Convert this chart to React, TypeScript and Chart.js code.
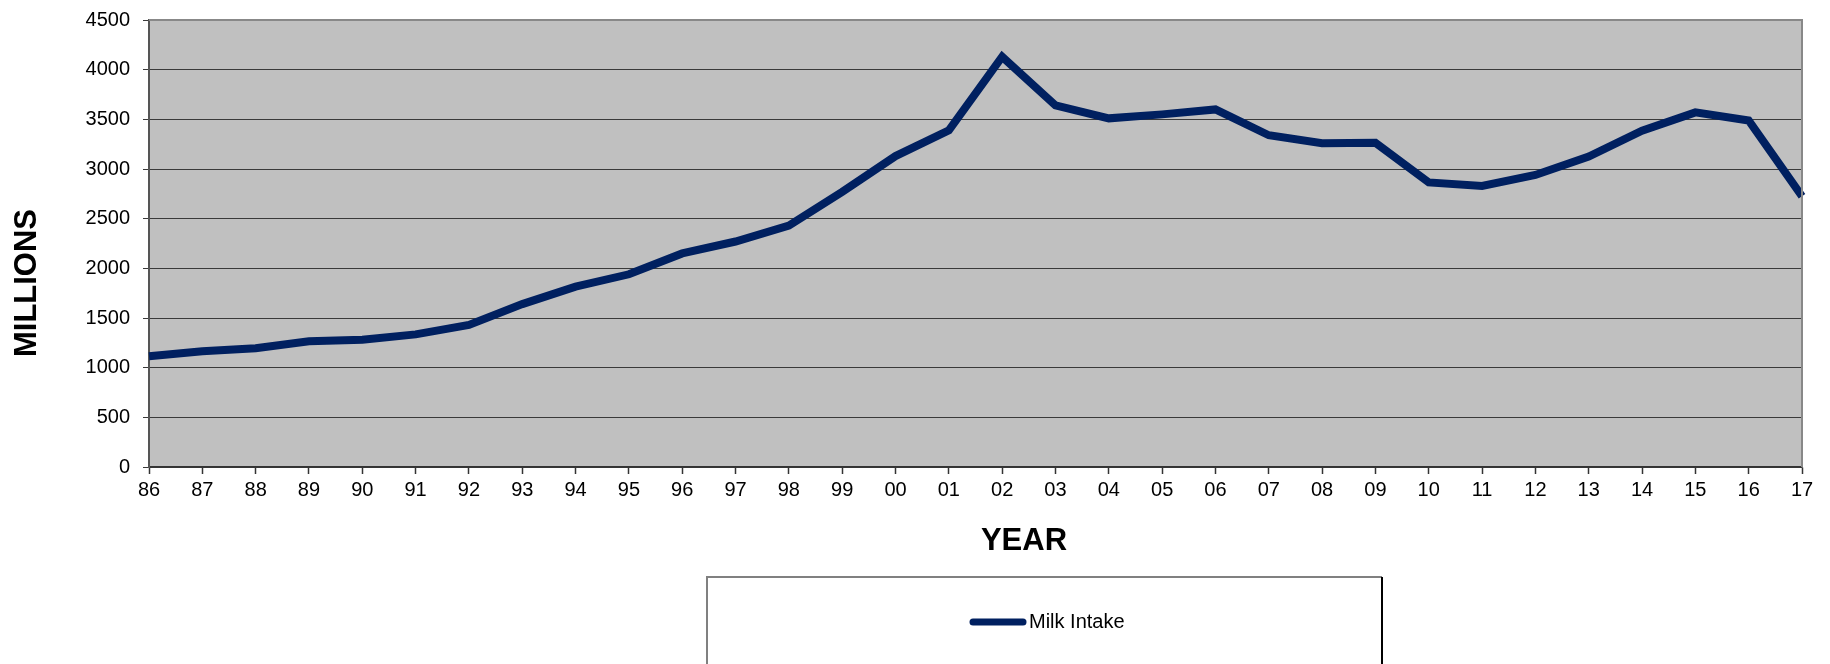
import React, { useEffect, useRef } from 'react';
import { Chart, registerables } from 'chart.js';

Chart.register(...registerables);

const years = [
  '86', '87', '88', '89', '90', '91', '92', '93', '94', '95', '96', '97', '98', '99',
  '00', '01', '02', '03', '04', '05', '06', '07', '08', '09', '10', '11', '12', '13',
  '14', '15', '16', '17',
];

const milkIntake = [
  1115, 1165, 1195, 1265, 1280, 1335, 1430, 1640, 1815, 1940, 2150, 2270, 2430, 2770,
  3130, 3390, 4130, 3640, 3510, 3550, 3600, 3340, 3260, 3265, 2865, 2830, 2940, 3125,
  3385, 3570, 3488, 2725,
];

const seriesLabel = 'Milk Intake';
const xTitle = 'YEAR';
const yTitle = 'MILLIONS';
const yMin = 0;
const yMax = 4500;
const yStep = 500;

const FONT = 'Arial, "Liberation Sans", sans-serif';
const LINE_COLOR = '#002060';

const decorPlugin = {
  id: 'decor',
  beforeDraw(chart: any) {
    const { ctx, chartArea } = chart;
    ctx.save();
    ctx.fillStyle = '#c0c0c0';
    ctx.fillRect(chartArea.left, chartArea.top, chartArea.right - chartArea.left, chartArea.bottom - chartArea.top);
    ctx.restore();
  },
  afterDraw(chart: any) {
    const { ctx, chartArea } = chart;
    ctx.save();
    // plot border (top & right)
    ctx.strokeStyle = '#888888';
    ctx.lineWidth = 2;
    ctx.beginPath();
    ctx.moveTo(chartArea.left, chartArea.top);
    ctx.lineTo(chartArea.right, chartArea.top);
    ctx.lineTo(chartArea.right, chartArea.bottom);
    ctx.stroke();

    // axis titles
    ctx.fillStyle = '#000';
    ctx.font = `bold 31px ${FONT}`;
    ctx.textAlign = 'center';
    ctx.textBaseline = 'middle';
    ctx.fillText(xTitle, 1024, 541);
    ctx.save();
    ctx.translate(27, 283);
    ctx.rotate(-Math.PI / 2);
    ctx.fillText(yTitle, 0, 0);
    ctx.restore();

    // legend box
    ctx.fillStyle = '#ffffff';
    ctx.fillRect(707, 577, 675, 120);
    ctx.strokeStyle = '#808080';
    ctx.lineWidth = 2;
    ctx.beginPath();
    ctx.moveTo(707, 700);
    ctx.lineTo(707, 577);
    ctx.lineTo(1382, 577);
    ctx.stroke();
    ctx.strokeStyle = '#000000';
    ctx.beginPath();
    ctx.moveTo(1382, 577);
    ctx.lineTo(1382, 700);
    ctx.stroke();

    const ds = chart.data.datasets[0];
    ctx.strokeStyle = ds.borderColor;
    ctx.lineWidth = 7;
    ctx.lineCap = 'round';
    ctx.beginPath();
    ctx.moveTo(973, 622);
    ctx.lineTo(1023, 622);
    ctx.stroke();
    ctx.fillStyle = '#000';
    ctx.font = `20px ${FONT}`;
    ctx.textAlign = 'left';
    ctx.textBaseline = 'middle';
    ctx.fillText(ds.label, 1029, 622);
    ctx.restore();
  },
};

export default function App() {
  const ref = useRef<HTMLCanvasElement | null>(null);

  useEffect(() => {
    if (!ref.current) return;
    const chart = new Chart(ref.current, {
      type: 'line',
      data: {
        labels: years,
        datasets: [
          {
            label: seriesLabel,
            data: milkIntake,
            borderColor: LINE_COLOR,
            backgroundColor: LINE_COLOR,
            borderWidth: 8,
            pointRadius: 0,
            tension: 0,
            borderJoinStyle: 'miter',
            fill: false,
          },
        ],
      },
      options: {
        animation: false,
        responsive: false,
        devicePixelRatio: 1,
        layout: { padding: { top: 20, right: 28, left: 0, bottom: 0 } },
        plugins: {
          legend: { display: false },
          tooltip: { enabled: false },
          title: { display: false },
        },
        scales: {
          x: {
            type: 'category',
            offset: false,
            grid: {
              drawOnChartArea: false,
              drawTicks: true,
              tickLength: 7,
              tickColor: '#333333',
              tickWidth: 1.5,
            },
            border: { display: true, color: '#333333', width: 1.5 },
            ticks: {
              color: '#000',
              font: { family: FONT, size: 20 },
              padding: 4,
              maxRotation: 0,
              autoSkip: false,
            },
            afterFit(scale: any) {
              scale.height = 664 - 467;
            },
          },
          y: {
            min: yMin,
            max: yMax,
            grid: {
              color: '#3a3a3a',
              lineWidth: 1,
              drawTicks: true,
              tickLength: 6,
              tickColor: '#3a3a3a',
            },
            border: { display: true, color: '#555555', width: 2 },
            ticks: {
              stepSize: yStep,
              color: '#000',
              font: { family: FONT, size: 20 },
              padding: 13,
              callback: (value: any) => String(value),
            },
            afterFit(scale: any) {
              scale.width = 149;
              scale.paddingTop = 0;
              scale.paddingBottom = 0;
            },
          },
        },
      },
      plugins: [decorPlugin],
    });
    return () => chart.destroy();
  }, []);

  return (
    <div style={{ position: 'absolute', left: 0, top: 0, width: 1830, height: 664, background: '#fff' }}>
      <canvas ref={ref} width={1830} height={664} style={{ display: 'block' }} />
    </div>
  );
}
